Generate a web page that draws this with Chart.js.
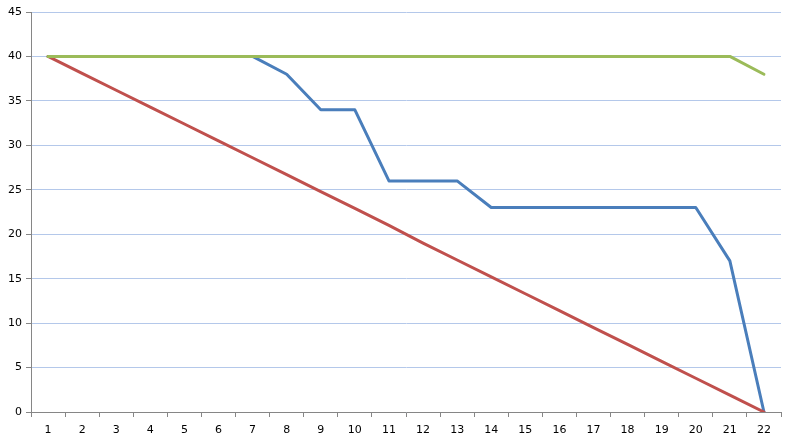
<!DOCTYPE html>
<html>
<head>
<meta charset="utf-8">
<script src="https://cdn.jsdelivr.net/npm/chart.js@4.4.0/dist/chart.umd.min.js"></script>
<style>
    html, body { margin: 0; padding: 0; background: #fff; }
    #wrap { width: 794px; height: 444px; }
</style>
</head>
<body>
<div id="wrap"><canvas id="c1" width="794" height="444"></canvas></div>
<script>
let days = ['1', '2', '3', '4', '5', '6', '7', '8', '9', '10', '11', '12', '13', '14', '15', '16', '17', '18', '19', '20', '21', '22'];
let actual = [40, 40, 40, 40, 40, 40, 40, 38, 34, 34, 26, 26, 26, 23, 23, 23, 23, 23, 23, 23, 17, 0];
let ideal = [40, 38.1, 36.2, 34.3, 32.4, 30.5, 28.6, 26.7, 24.8, 22.9, 21.0, 19.0, 17.1, 15.2, 13.3, 11.4, 9.5, 7.6, 5.7, 3.8, 1.9, 0];
let total = [40, 40, 40, 40, 40, 40, 40, 40, 40, 40, 40, 40, 40, 40, 40, 40, 40, 40, 40, 40, 40, 38];
let yTicks = [0, 5, 10, 15, 20, 25, 30, 35, 40, 45];

let chart1 = null;
{
    let c1 = document.querySelector('#c1');
    let font = { family: 'DejaVu Sans', size: 11 };

    let opts = {
        type: 'line',
        data: {
            labels: days,
            datasets: [
                { label: 'total', data: total, borderColor: '#9bbb59' },
                { label: 'ideal', data: ideal, borderColor: '#c0504d' },
                { label: 'actual', data: actual, borderColor: '#4a7ebb' },
            ],
        },
        options: {
            responsive: false,
            animation: false,
            layout: { padding: { top: 12, right: 13, left: 0, bottom: 0 } },
            elements: {
                line: { borderWidth: 3, tension: 0, borderJoinStyle: 'round', borderCapStyle: 'round', fill: false },
                point: { radius: 0 },
            },
            plugins: { legend: { display: false }, tooltip: { enabled: false } },
            scales: {
                x: {
                    offset: true,
                    border: { color: '#868686', width: 1 },
                    grid: { offset: true, drawOnChartArea: false, drawTicks: true, tickLength: 5, tickColor: '#868686' },
                    ticks: { color: '#000', font: font, padding: 7, maxRotation: 0, autoSkip: false },
                    afterFit: (s) => { s.height = 32; },
                },
                y: {
                    min: 0,
                    max: 45,
                    afterBuildTicks: (s) => { s.ticks = yTicks.map(v => ({ value: v })); },
                    border: { color: '#868686', width: 1 },
                    grid: { color: '#b4c8ea', tickColor: '#868686', tickLength: 5, lineWidth: 1 },
                    ticks: { color: '#000', font: font, padding: 4 },
                    afterFit: (s) => { s.width = 31; },
                },
            },
        },
    };

    chart1 = new Chart(c1, opts);
}
</script>
</body>
</html>
